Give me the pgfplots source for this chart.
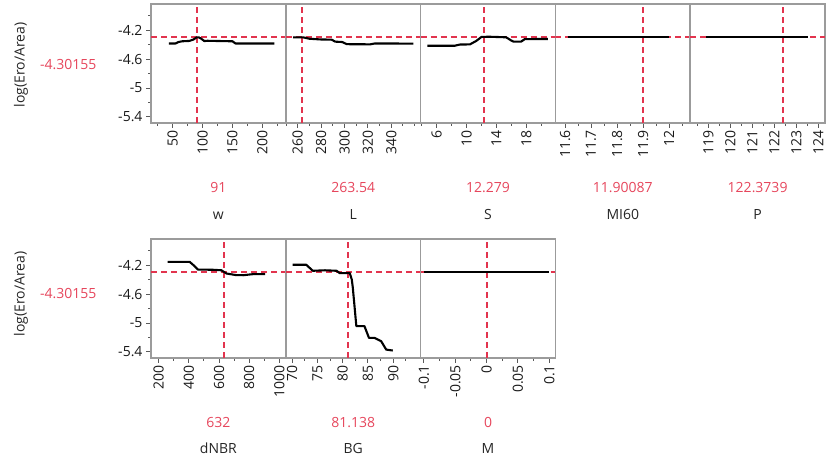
\documentclass[border=0pt]{standalone}
\usepackage{pgfplots}
\pgfplotsset{compat=1.18}
\usepackage{fontspec}
\setmainfont{Open Sans}
\definecolor{jred}{RGB}{226,52,78}
\definecolor{jtext}{RGB}{230,70,92}
\definecolor{framec}{RGB}{155,155,155}
\definecolor{tickc}{RGB}{90,90,90}
\newcommand\tf{\fontsize{14bp}{16bp}\selectfont}
\pgfplotsset{
 prof/.style={
  scale only axis, width=134.8bp, height=119bp,
  anchor=south west,
  ymin=-5.483, ymax=-3.84,
  axis line style={draw=framec, line width=1.6bp},
  tick align=outside,
  major tick length=5bp, minor tick length=3bp,
  tick style={draw=tickc, line width=1bp},
  xtick pos=bottom, ytick pos=left,
  ytick=\empty,
  scaled ticks=false,
  xticklabel style={rotate=90, anchor=east, font=\tf, text=black!90, inner sep=2bp},
  yticklabel style={font=\tf, text=black!90},
 },
 first/.style={ytick={-5.4,-5,-4.6,-4.2}, yticklabels={-5.4,-5,-4.6,-4.2}, minor ytick={-5.2,-4.8,-4.4,-4.0}},
 refh/.style={jred, dash pattern=on 6bp off 4bp, line width=2bp},
 profline/.style={black, line width=2.1bp, line join=round},
}
\begin{document}
\begin{tikzpicture}[x=1bp,y=1bp]
\path[use as bounding box] (0,0) rectangle (827,461);
% ---------- top row ----------
\begin{axis}[prof, first, at={(151bp,338bp)}, xmin=14, xmax=239,
  xtick={50,100,150,200}, xticklabels={50,100,150,200}, minor xtick={25,75,125,175,225}]
\addplot[refh] coordinates {(14,-4.30155)(239,-4.30155)};
\addplot[refh] coordinates {(91,-5.483)(91,-3.84)};
\addplot[profline] coordinates {(44,-4.385)(55,-4.385)(60,-4.365)(66,-4.355)(78,-4.350)(85,-4.33)(90,-4.302)(94,-4.302)(98,-4.32)(103,-4.352)(108,-4.348)(150,-4.355)(155,-4.385)(220,-4.385)};
\end{axis}
\begin{axis}[prof, at={(285.8bp,338bp)}, xmin=249.8, xmax=365.1,
  xtick={260,280,300,320,340}, xticklabels={260,280,300,320,340}, minor xtick={250,270,290,310,330,350,360}]
\addplot[refh] coordinates {(249.8,-4.30155)(365.1,-4.30155)};
\addplot[refh] coordinates {(263.54,-5.483)(263.54,-3.84)};
\addplot[profline] coordinates {(256,-4.300)(265,-4.302)(270,-4.320)(280,-4.330)(289,-4.332)(292,-4.360)(298,-4.365)(302,-4.395)(322,-4.397)(326,-4.385)(359,-4.387)};
\end{axis}
\begin{axis}[prof, at={(420.6bp,338bp)}, xmin=3.85, xmax=21.9,
  xtick={6,10,14,18}, xticklabels={6,10,14,18}, minor xtick={4,8,12,16,20}]
\addplot[refh] coordinates {(3.85,-4.30155)(21.9,-4.30155)};
\addplot[refh] coordinates {(12.279,-5.483)(12.279,-3.84)};
\addplot[profline] coordinates {(4.75,-4.417)(8.4,-4.417)(9.1,-4.400)(10.45,-4.398)(11.3,-4.35)(12.0,-4.295)(13,-4.292)(15.3,-4.300)(16.0,-4.345)(16.3,-4.36)(17.3,-4.36)(17.8,-4.325)(20.9,-4.323)};
\end{axis}
\begin{axis}[prof, at={(555.4bp,338bp)}, xmin=11.563, xmax=12.081,
  xtick={11.6,11.7,11.8,11.9,12}, xticklabels={11.6,11.7,11.8,11.9,12}, minor xtick={11.65,11.75,11.85,11.95,12.05}]
\addplot[refh] coordinates {(11.563,-4.30155)(12.081,-4.30155)};
\addplot[refh] coordinates {(11.90087,-5.483)(11.90087,-3.84)};
\addplot[profline] coordinates {(11.61,-4.30155)(12.0,-4.30155)};
\end{axis}
\begin{axis}[prof, at={(690.2bp,338bp)}, xmin=118.18, xmax=124.3,
  xtick={119,120,121,122,123,124}, xticklabels={119,120,121,122,123,124}, minor xtick={118.5,119.5,120.5,121.5,122.5,123.5}]
\addplot[refh] coordinates {(118.18,-4.30155)(124.3,-4.30155)};
\addplot[refh] coordinates {(122.3739,-5.483)(122.3739,-3.84)};
\addplot[profline] coordinates {(118.9,-4.30155)(123.55,-4.30155)};
\end{axis}
% ---------- bottom row ----------
\begin{axis}[prof, first, at={(151bp,103bp)}, xmin=149, xmax=1043,
  xtick={200,400,600,800,1000}, xticklabels={200,400,600,800,1000}, minor xtick={300,500,700,900}]
\addplot[refh] coordinates {(149,-4.30155)(1043,-4.30155)};
\addplot[refh] coordinates {(632,-5.483)(632,-3.84)};
\addplot[profline] coordinates {(260,-4.155)(405,-4.155)(430,-4.20)(460,-4.262)(560,-4.265)(616,-4.272)(649,-4.316)(711,-4.338)(760,-4.34)(827,-4.325)(905,-4.325)};
\end{axis}
\begin{axis}[prof, at={(285.8bp,103bp)}, xmin=68.76, xmax=95.4,
  xtick={70,75,80,85,90}, xticklabels={70,75,80,85,90}, minor xtick={72.5,77.5,82.5,87.5,92.5}]
\addplot[refh] coordinates {(68.76,-4.30155)(95.4,-4.30155)};
\addplot[refh] coordinates {(81.138,-5.483)(81.138,-3.84)};
\addplot[profline] coordinates {(70.1,-4.196)(72.8,-4.196)(74.1,-4.279)(76.5,-4.272)(78.8,-4.279)(79.4,-4.311)(81.4,-4.311)(81.8,-4.40)(82.0,-4.511)(82.7,-5.043)(84.3,-5.043)(85.2,-5.206)(86.3,-5.206)(87.6,-5.251)(88.6,-5.367)(89.9,-5.38)};
\end{axis}
\begin{axis}[prof, at={(420.6bp,103bp)}, xmin=-0.1053, xmax=0.1097,
  xtick={-0.1,-0.05,0,0.05,0.1}, xticklabels={-0.1,-0.05,0,0.05,0.1}, minor xtick={-0.075,-0.025,0.025,0.075}]
\addplot[refh] coordinates {(-0.1053,-4.30155)(0.1097,-4.30155)};
\addplot[refh] coordinates {(0,-5.483)(0,-3.84)};
\addplot[profline] coordinates {(-0.1,-4.30155)(0.1,-4.30155)};
\end{axis}
% ---------- labels ----------
\foreach \yc in {396,167}{
  \node[rotate=90, font=\tf, text=black!85] at (21,\yc) {log(Ero/Area)};
  \node[anchor=east, font=\tf, text=jtext] at (100,\yc) {-4.30155};
}
\foreach \xc/\v/\n in {218.4/91/w, 353.2/263.54/L, 488/12.279/S, 622.8/11.90087/MI60, 757.6/122.3739/P}{
  \node[anchor=base, font=\tf, text=jtext] at (\xc,268) {\v};
  \node[anchor=base, font=\tf, text=black!85] at (\xc,241) {\n};
}
\foreach \xc/\v/\n in {218.4/632/dNBR, 353.2/81.138/BG, 488/0/M}{
  \node[anchor=base, font=\tf, text=jtext] at (\xc,33) {\v};
  \node[anchor=base, font=\tf, text=black!85] at (\xc,7) {\n};
}
\end{tikzpicture}
\end{document}
